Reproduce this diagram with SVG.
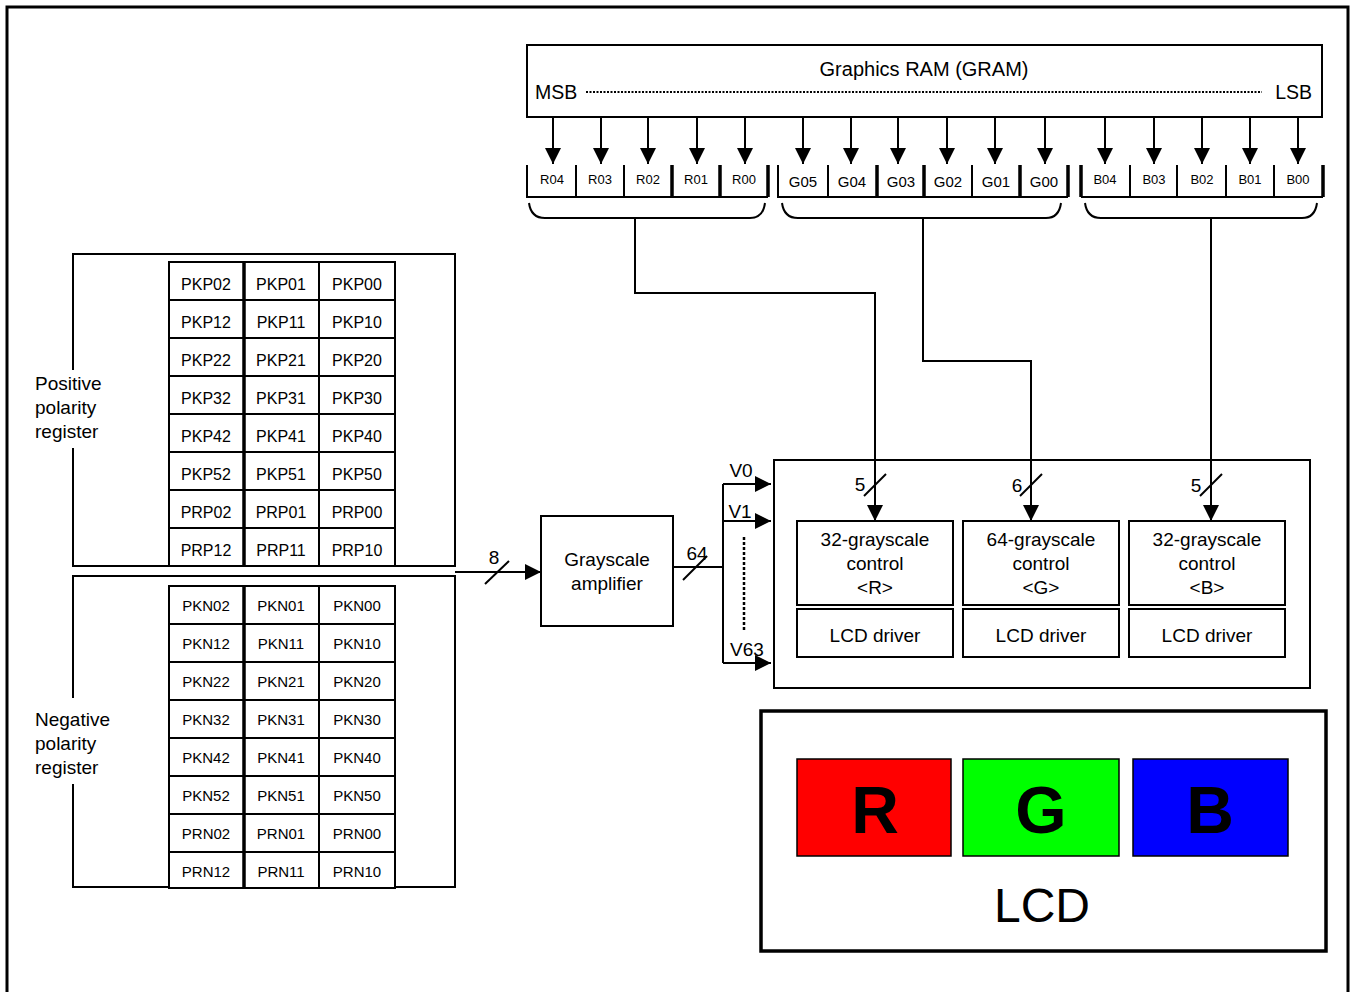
<svg xmlns="http://www.w3.org/2000/svg" width="1357" height="992" viewBox="0 0 1357 992">
<defs>
<marker id="ah" markerUnits="userSpaceOnUse" markerWidth="16" markerHeight="16" viewBox="0 0 16 16" refX="16" refY="8" orient="auto"><path d="M0,0 L16,8 L0,16 Z" fill="#000"/></marker>
</defs>
<style>
text{font-family:"Liberation Sans",Arial,sans-serif;fill:#000}
.box{fill:#fff;stroke:#000;stroke-width:2}
.ln{fill:none;stroke:#000;stroke-width:2}
.th{fill:none;stroke:#000;stroke-width:3.5}
.bit{font-size:13px;text-anchor:middle}
.reg{font-size:15px;text-anchor:middle}
.regp{font-size:16px;text-anchor:middle}
.lbl{font-size:19px;text-anchor:middle}
.side{font-size:19px}
.arr{fill:none;stroke:#000;stroke-width:2;marker-end:url(#ah)}
</style>
<rect x="0" y="0" width="1357" height="992" fill="#fff"/>
<path d="M7,992 V7 H1348 V992" fill="none" stroke="#000" stroke-width="3"/>

<g id="gram">
<rect class="box" x="527" y="45" width="795" height="72"/>
<text x="924" y="76" class="lbl" style="font-size:20px">Graphics RAM (GRAM)</text>
<text x="535" y="99" class="side" style="font-size:19.5px">MSB</text>
<text x="1312" y="99" class="side" style="font-size:19.5px;text-anchor:end">LSB</text>
<line x1="586" y1="92" x2="1262" y2="92" stroke="#000" stroke-width="2" stroke-dasharray="2,1.5"/>
</g>

<g id="bits">
<path class="ln" d="M527,165 V197 H768 M1081,197 H1323 M778,165 V197 H1068"/>
<path class="ln" d="M576,165 V197 M624,165 V197 M828,165 V197 M972,165 V197 M1130,165 V197 M1177,165 V197 M1226,165 V197 M1274,165 V197"/>
<path class="th" d="M672,165 V197 M720,165 V197 M768,165 V197 M877,165 V197 M924,165 V197 M1020,165 V197 M1068,165 V197 M1081,165 V197 M1323,165 V197"/>
<text class="bit" x="552" y="184">R04</text>
<text class="bit" x="600" y="184">R03</text>
<text class="bit" x="648" y="184">R02</text>
<text class="bit" x="696" y="184">R01</text>
<text class="bit" x="744" y="184">R00</text>
<text class="bit" x="803" y="187" style="font-size:15px">G05</text>
<text class="bit" x="852" y="187" style="font-size:15px">G04</text>
<text class="bit" x="901" y="187" style="font-size:15px">G03</text>
<text class="bit" x="948" y="187" style="font-size:15px">G02</text>
<text class="bit" x="996" y="187" style="font-size:15px">G01</text>
<text class="bit" x="1044" y="187" style="font-size:15px">G00</text>
<text class="bit" x="1105" y="184">B04</text>
<text class="bit" x="1154" y="184">B03</text>
<text class="bit" x="1202" y="184">B02</text>
<text class="bit" x="1250" y="184">B01</text>
<text class="bit" x="1298" y="184">B00</text>
<path class="ln" d="M529,203 Q531,218 545,218 H750 Q763,218 765,203"/>
<path class="ln" d="M782,203 Q784,218 798,218 H1046 Q1059,218 1061,203"/>
<path class="ln" d="M1085,203 Q1087,218 1101,218 H1302 Q1315,218 1317,203"/>
</g>

<g id="registers">
<rect class="box" x="73" y="254" width="382" height="312"/>
<rect class="box" x="73" y="576" width="382" height="311"/>
<rect x="66" y="370" width="50" height="78" fill="#fff"/>
<rect x="66" y="698" width="50" height="86" fill="#fff"/>
<text class="side" x="35" y="390">Positive</text>
<text class="side" x="35" y="414">polarity</text>
<text class="side" x="35" y="438">register</text>
<text class="side" x="35" y="726">Negative</text>
<text class="side" x="35" y="750">polarity</text>
<text class="side" x="35" y="774">register</text>
<rect class="box" x="169" y="262" width="226" height="304"/>
<path class="ln" d="M319,262 V566 M169,300 H395 M169,338 H395 M169,376 H395 M169,414 H395 M169,452 H395 M169,490 H395 M169,528 H395"/>
<path class="th" d="M244,262 V566"/>
<rect class="box" x="169" y="586" width="226" height="302"/>
<path class="ln" d="M319,586 V888 M169,624 H395 M169,662 H395 M169,700 H395 M169,738 H395 M169,776 H395 M169,814 H395 M169,852 H395"/>
<path class="th" d="M244,586 V888"/>
<g class="regp">
<text x="206" y="290">PKP02</text><text x="281" y="290">PKP01</text><text x="357" y="290">PKP00</text>
<text x="206" y="328">PKP12</text><text x="281" y="328">PKP11</text><text x="357" y="328">PKP10</text>
<text x="206" y="366">PKP22</text><text x="281" y="366">PKP21</text><text x="357" y="366">PKP20</text>
<text x="206" y="404">PKP32</text><text x="281" y="404">PKP31</text><text x="357" y="404">PKP30</text>
<text x="206" y="442">PKP42</text><text x="281" y="442">PKP41</text><text x="357" y="442">PKP40</text>
<text x="206" y="480">PKP52</text><text x="281" y="480">PKP51</text><text x="357" y="480">PKP50</text>
<text x="206" y="518">PRP02</text><text x="281" y="518">PRP01</text><text x="357" y="518">PRP00</text>
<text x="206" y="556">PRP12</text><text x="281" y="556">PRP11</text><text x="357" y="556">PRP10</text>
</g>
<g class="reg">
<text x="206" y="611">PKN02</text><text x="281" y="611">PKN01</text><text x="357" y="611">PKN00</text>
<text x="206" y="649">PKN12</text><text x="281" y="649">PKN11</text><text x="357" y="649">PKN10</text>
<text x="206" y="687">PKN22</text><text x="281" y="687">PKN21</text><text x="357" y="687">PKN20</text>
<text x="206" y="725">PKN32</text><text x="281" y="725">PKN31</text><text x="357" y="725">PKN30</text>
<text x="206" y="763">PKN42</text><text x="281" y="763">PKN41</text><text x="357" y="763">PKN40</text>
<text x="206" y="801">PKN52</text><text x="281" y="801">PKN51</text><text x="357" y="801">PKN50</text>
<text x="206" y="839">PRN02</text><text x="281" y="839">PRN01</text><text x="357" y="839">PRN00</text>
<text x="206" y="877">PRN12</text><text x="281" y="877">PRN11</text><text x="357" y="877">PRN10</text>
</g>
</g>

<g id="amplifier">
<rect class="box" x="541" y="516" width="132" height="110"/>
<text class="lbl" x="607" y="566">Grayscale</text>
<text class="lbl" x="607" y="590">amplifier</text>
</g>

<g id="driver-block">
<rect class="box" x="774" y="460" width="536" height="228"/>
<rect class="box" x="797" y="521" width="156" height="84"/>
<rect class="box" x="797" y="609" width="156" height="48"/>
<rect class="box" x="963" y="521" width="156" height="84"/>
<rect class="box" x="963" y="609" width="156" height="48"/>
<rect class="box" x="1129" y="521" width="156" height="84"/>
<rect class="box" x="1129" y="609" width="156" height="48"/>
<text class="lbl" x="875" y="546">32-grayscale</text>
<text class="lbl" x="875" y="570">control</text>
<text class="lbl" x="875" y="594">&lt;R&gt;</text>
<text class="lbl" x="875" y="642">LCD driver</text>
<text class="lbl" x="1041" y="546">64-grayscale</text>
<text class="lbl" x="1041" y="570">control</text>
<text class="lbl" x="1041" y="594">&lt;G&gt;</text>
<text class="lbl" x="1041" y="642">LCD driver</text>
<text class="lbl" x="1207" y="546">32-grayscale</text>
<text class="lbl" x="1207" y="570">control</text>
<text class="lbl" x="1207" y="594">&lt;B&gt;</text>
<text class="lbl" x="1207" y="642">LCD driver</text>
</g>

<g id="lcd">
<rect x="761" y="711" width="565" height="240" fill="#fff" stroke="#000" stroke-width="3.5"/>
<rect x="797" y="759" width="154" height="97" fill="#ff0000" stroke="#000" stroke-width="1.5"/>
<rect x="963" y="759" width="156" height="97" fill="#00ff00" stroke="#000" stroke-width="1.5"/>
<rect x="1133" y="759" width="155" height="97" fill="#0000ff" stroke="#000" stroke-width="1.5"/>
<text x="875" y="833" style="font-size:66px;font-weight:bold;text-anchor:middle">R</text>
<text x="1041" y="833" style="font-size:66px;font-weight:bold;text-anchor:middle">G</text>
<text x="1210" y="833" style="font-size:66px;font-weight:bold;text-anchor:middle">B</text>
<text x="1042" y="922" style="font-size:48px;text-anchor:middle">LCD</text>
</g>

<g id="connectors">
<line class="arr" x1="553" y1="117" x2="553" y2="164"/>
<line class="arr" x1="601" y1="117" x2="601" y2="164"/>
<line class="arr" x1="648" y1="117" x2="648" y2="164"/>
<line class="arr" x1="697" y1="117" x2="697" y2="164"/>
<line class="arr" x1="745" y1="117" x2="745" y2="164"/>
<line class="arr" x1="803" y1="117" x2="803" y2="164"/>
<line class="arr" x1="851" y1="117" x2="851" y2="164"/>
<line class="arr" x1="898" y1="117" x2="898" y2="164"/>
<line class="arr" x1="947" y1="117" x2="947" y2="164"/>
<line class="arr" x1="995" y1="117" x2="995" y2="164"/>
<line class="arr" x1="1045" y1="117" x2="1045" y2="164"/>
<line class="arr" x1="1105" y1="117" x2="1105" y2="164"/>
<line class="arr" x1="1154" y1="117" x2="1154" y2="164"/>
<line class="arr" x1="1202" y1="117" x2="1202" y2="164"/>
<line class="arr" x1="1250" y1="117" x2="1250" y2="164"/>
<line class="arr" x1="1298" y1="117" x2="1298" y2="164"/>
<path class="arr" d="M635,218 V293 H875 V521"/>
<path class="arr" d="M923,218 V361 H1031 V521"/>
<path class="arr" d="M1211,218 V521"/>
<line class="ln" x1="864" y1="496" x2="886" y2="474"/>
<line class="ln" x1="1020" y1="496" x2="1042" y2="474"/>
<line class="ln" x1="1200" y1="496" x2="1222" y2="474"/>
<text class="lbl" x="860" y="491">5</text>
<text class="lbl" x="1017" y="492">6</text>
<text class="lbl" x="1196" y="492">5</text>
<line class="arr" x1="455" y1="572" x2="541" y2="572"/>
<line class="ln" x1="485" y1="584" x2="509" y2="561"/>
<text class="lbl" x="494" y="564">8</text>
<path class="ln" d="M673,567 H723 M723,484 V663"/>
<line class="ln" x1="683" y1="580" x2="707" y2="556"/>
<text class="lbl" x="697" y="560">64</text>
<path class="arr" d="M723,484 H771"/>
<path class="arr" d="M723,521 H771"/>
<path class="arr" d="M723,663 H771"/>
<line x1="744" y1="537" x2="744" y2="630" stroke="#000" stroke-width="2.5" stroke-dasharray="3,2"/>
<text class="lbl" x="741" y="477">V0</text>
<text class="lbl" x="740" y="518">V1</text>
<text class="lbl" x="747" y="656">V63</text>
</g>
</svg>
